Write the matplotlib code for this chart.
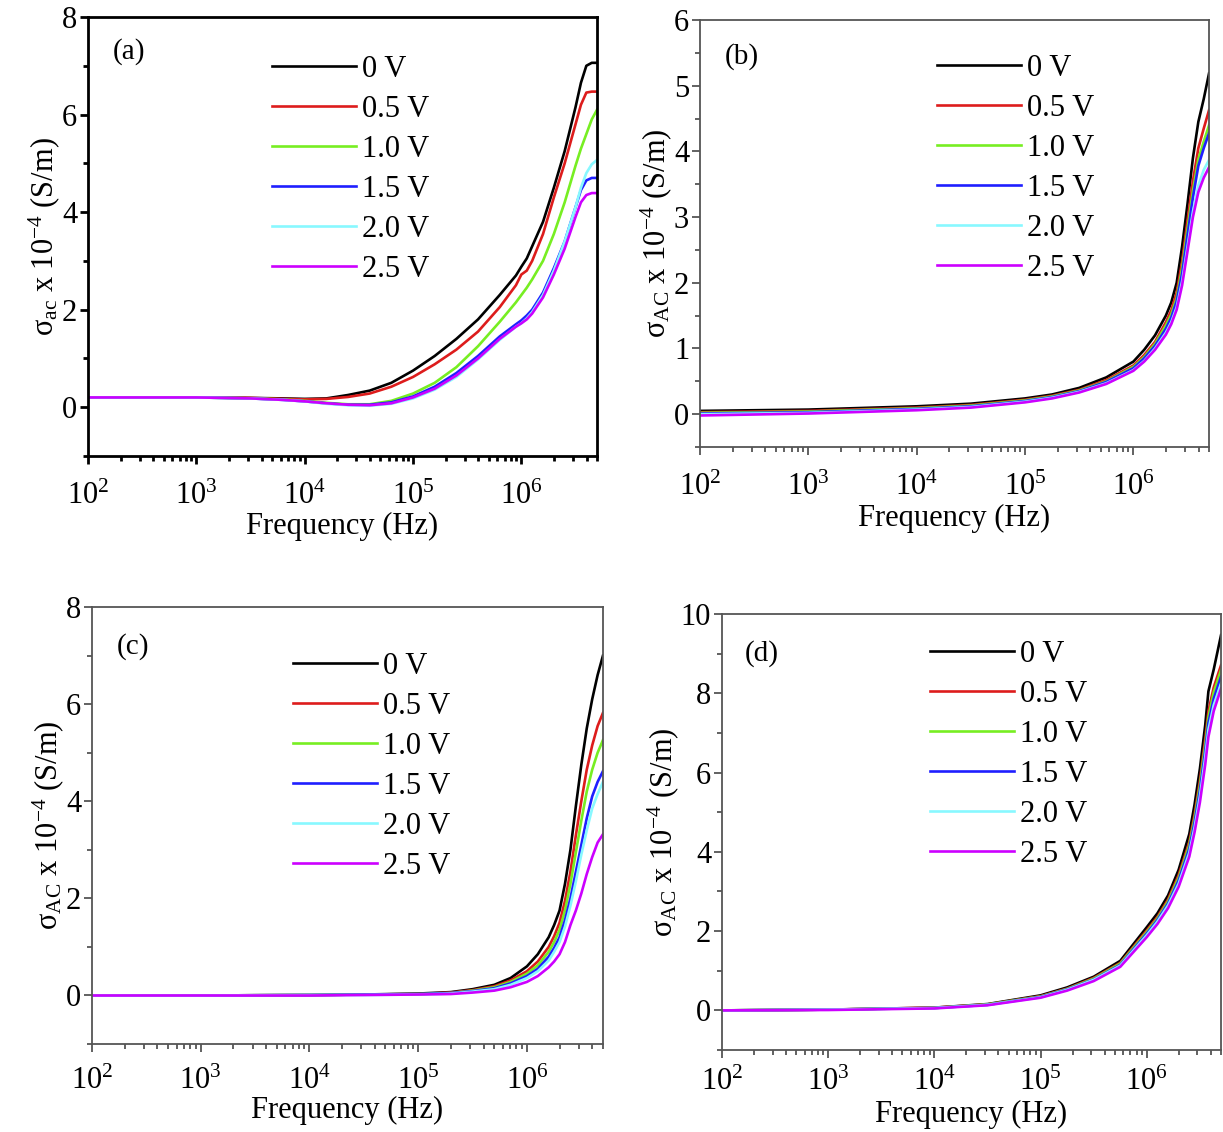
import matplotlib
matplotlib.use("Agg")
import matplotlib.pyplot as plt
from matplotlib.ticker import LogLocator, LogFormatterMathtext, MultipleLocator, NullFormatter

plt.rcParams['font.family'] = ['Liberation Serif', 'DejaVu Serif']
plt.rcParams['mathtext.fontset'] = 'custom'
plt.rcParams['mathtext.rm'] = 'Liberation Serif'
plt.rcParams['mathtext.it'] = 'Liberation Serif:italic'
plt.rcParams['mathtext.bf'] = 'Liberation Serif:bold'

labels = ['0 V', '0.5 V', '1.0 V', '1.5 V', '2.0 V', '2.5 V']
colors = ['#000000', '#dd1c1c', '#77ee22', '#1f1fff', '#88f8ff', '#cc00ff']

# ---- panel (a) ----
logf_a = [2.0, 2.5, 3.0, 3.5, 3.8, 4.0, 4.2, 4.4, 4.6, 4.8, 5.0, 5.2, 5.4, 5.6, 5.8,
          5.95, 6.0, 6.05, 6.1, 6.2, 6.3, 6.4, 6.5, 6.55, 6.6, 6.65, 6.699]
a_0v = [0.20, 0.20, 0.20, 0.19, 0.18, 0.17, 0.18, 0.25, 0.34, 0.50, 0.75, 1.05, 1.40, 1.80, 2.30,
        2.70, 2.88, 3.05, 3.30, 3.80, 4.50, 5.25, 6.15, 6.65, 7.00, 7.06, 7.06]
a_05v = [0.20, 0.20, 0.20, 0.19, 0.17, 0.16, 0.17, 0.21, 0.28, 0.42, 0.62, 0.88, 1.18, 1.55, 2.05,
         2.50, 2.72, 2.80, 3.00, 3.55, 4.30, 5.00, 5.80, 6.20, 6.45, 6.47, 6.47]
a_10v = [0.20, 0.20, 0.20, 0.18, 0.16, 0.13, 0.09, 0.06, 0.06, 0.13, 0.28, 0.50, 0.82, 1.25, 1.75,
         2.15, 2.30, 2.45, 2.62, 3.00, 3.55, 4.20, 4.95, 5.30, 5.60, 5.90, 6.10]
a_15v = [0.20, 0.20, 0.20, 0.18, 0.15, 0.12, 0.08, 0.05, 0.05, 0.10, 0.22, 0.42, 0.70, 1.05, 1.45,
         1.70, 1.78, 1.88, 2.00, 2.35, 2.85, 3.40, 4.10, 4.45, 4.65, 4.70, 4.70]
a_20v = [0.20, 0.20, 0.20, 0.18, 0.15, 0.12, 0.07, 0.04, 0.03, 0.07, 0.18, 0.36, 0.62, 0.98, 1.38,
         1.65, 1.72, 1.82, 1.95, 2.30, 2.80, 3.40, 4.10, 4.50, 4.80, 4.98, 5.07]
a_25v = [0.20, 0.20, 0.20, 0.18, 0.15, 0.12, 0.08, 0.05, 0.04, 0.08, 0.20, 0.38, 0.65, 1.00, 1.40,
         1.65, 1.72, 1.80, 1.92, 2.25, 2.72, 3.25, 3.90, 4.20, 4.35, 4.39, 4.39]

# ---- panel (b) ----
logf_b = [2.0, 3.0, 4.0, 4.5, 5.0, 5.25, 5.5, 5.75, 6.0, 6.1, 6.2, 6.3, 6.35, 6.4, 6.45,
          6.5, 6.55, 6.6, 6.65, 6.699]
b_0v = [0.05, 0.07, 0.12, 0.16, 0.24, 0.30, 0.40, 0.56, 0.80, 0.98, 1.20, 1.50, 1.70, 2.00, 2.55,
        3.20, 3.90, 4.45, 4.80, 5.19]
b_05v = [0.03, 0.05, 0.10, 0.14, 0.22, 0.28, 0.37, 0.52, 0.74, 0.90, 1.10, 1.40, 1.58, 1.85, 2.32,
         2.95, 3.55, 4.05, 4.35, 4.63]
b_10v = [0.02, 0.04, 0.09, 0.13, 0.21, 0.27, 0.36, 0.50, 0.72, 0.87, 1.07, 1.35, 1.52, 1.77, 2.22,
         2.82, 3.40, 3.88, 4.15, 4.40]
b_15v = [0.01, 0.03, 0.08, 0.12, 0.20, 0.26, 0.35, 0.49, 0.70, 0.85, 1.04, 1.30, 1.47, 1.72, 2.14,
         2.72, 3.30, 3.78, 4.05, 4.28]
b_20v = [0.00, 0.02, 0.07, 0.11, 0.19, 0.25, 0.34, 0.47, 0.67, 0.81, 1.00, 1.24, 1.40, 1.63, 2.02,
         2.55, 3.08, 3.48, 3.72, 3.87]
b_25v = [-0.02, 0.01, 0.06, 0.10, 0.18, 0.24, 0.33, 0.46, 0.66, 0.80, 0.98, 1.21, 1.37, 1.59, 1.96,
         2.48, 3.00, 3.38, 3.60, 3.76]

# ---- panel (c) ----
logf_c = [2.0, 3.0, 4.0, 4.5, 5.0, 5.3, 5.5, 5.7, 5.85, 6.0, 6.1, 6.2, 6.25, 6.3, 6.35,
          6.4, 6.45, 6.5, 6.55, 6.6, 6.65, 6.699]
c_0v = [0.0, 0.0, 0.01, 0.02, 0.04, 0.07, 0.13, 0.22, 0.36, 0.60, 0.85, 1.20, 1.45, 1.75, 2.30,
        3.00, 3.90, 4.75, 5.50, 6.10, 6.60, 7.00]
c_05v = [0.0, 0.0, 0.01, 0.02, 0.03, 0.06, 0.11, 0.19, 0.31, 0.50, 0.70, 1.00, 1.22, 1.50, 1.95,
         2.55, 3.30, 4.00, 4.65, 5.15, 5.55, 5.82]
c_10v = [0.0, 0.0, 0.01, 0.02, 0.03, 0.05, 0.10, 0.17, 0.28, 0.45, 0.62, 0.90, 1.10, 1.35, 1.75,
         2.30, 2.95, 3.60, 4.20, 4.65, 5.00, 5.26]
c_15v = [0.0, 0.0, 0.01, 0.02, 0.03, 0.05, 0.09, 0.15, 0.25, 0.40, 0.55, 0.80, 0.98, 1.20, 1.55,
         2.00, 2.55, 3.10, 3.65, 4.10, 4.40, 4.62]
c_20v = [0.0, 0.0, 0.01, 0.01, 0.02, 0.04, 0.08, 0.13, 0.22, 0.36, 0.50, 0.72, 0.90, 1.10, 1.42,
         1.85, 2.35, 2.90, 3.40, 3.85, 4.15, 4.40]
c_25v = [0.0, 0.0, 0.00, 0.01, 0.02, 0.03, 0.06, 0.10, 0.17, 0.28, 0.40, 0.58, 0.70, 0.85, 1.10,
         1.45, 1.75, 2.10, 2.50, 2.85, 3.15, 3.32]

# ---- panel (d) ----
logf_d = [2.0, 3.0, 4.0, 4.5, 5.0, 5.25, 5.5, 5.75, 6.0, 6.1, 6.2, 6.3, 6.4, 6.45, 6.5,
          6.55, 6.58, 6.63, 6.699]
d_0v = [0.0, 0.02, 0.07, 0.16, 0.38, 0.58, 0.85, 1.25, 2.10, 2.45, 2.90, 3.55, 4.45, 5.20, 6.10,
        7.20, 8.05, 8.60, 9.47]
d_05v = [0.0, 0.02, 0.07, 0.15, 0.36, 0.55, 0.82, 1.20, 2.02, 2.36, 2.80, 3.42, 4.25, 4.95, 5.80,
         6.85, 7.55, 8.15, 8.71]
d_10v = [0.0, 0.02, 0.06, 0.15, 0.35, 0.54, 0.80, 1.18, 1.98, 2.32, 2.75, 3.35, 4.17, 4.85, 5.68,
         6.70, 7.40, 8.02, 8.59]
d_15v = [0.0, 0.02, 0.06, 0.14, 0.34, 0.53, 0.78, 1.15, 1.94, 2.28, 2.70, 3.28, 4.08, 4.75, 5.55,
         6.55, 7.25, 7.86, 8.42]
d_20v = [0.0, 0.02, 0.06, 0.14, 0.33, 0.52, 0.77, 1.13, 1.90, 2.24, 2.65, 3.20, 3.98, 4.62, 5.40,
         6.38, 7.08, 7.70, 8.25]
d_25v = [0.0, 0.01, 0.05, 0.13, 0.32, 0.50, 0.74, 1.10, 1.85, 2.18, 2.58, 3.12, 3.88, 4.50, 5.25,
         6.20, 6.90, 7.55, 8.12]

panels = [
    dict(tag='(a)', logf=logf_a, series=[a_0v, a_05v, a_10v, a_15v, a_20v, a_25v],
         rect=[0.0720, 0.5972, 0.4162, 0.3878], ylim=(-1, 8), major=2, minor=1,
         ylabel='σ$_{\\mathrm{ac}}$ x 10$^{-4}$ (S/m)', frame='black', fw=2.0,
         leg=(0.361, 0.913), tagpos=(0.049, 0.921), xpad=12.5, xlpad=1.0),
    dict(tag='(b)', logf=logf_b, series=[b_0v, b_05v, b_10v, b_15v, b_20v, b_25v],
         rect=[0.5724, 0.6051, 0.4162, 0.3772], ylim=(-0.5, 6), major=1, minor=0.5,
         ylabel='σ$_{\\mathrm{AC}}$ x 10$^{-4}$ (S/m)', frame='#555555', fw=1.3,
         leg=(0.466, 0.921), tagpos=(0.049, 0.915), xpad=12.8, xlpad=1.5),
    dict(tag='(c)', logf=logf_c, series=[c_0v, c_05v, c_10v, c_15v, c_20v, c_25v],
         rect=[0.0752, 0.0777, 0.4178, 0.3860], ylim=(-1, 8), major=2, minor=1,
         ylabel='σ$_{\\mathrm{AC}}$ x 10$^{-4}$ (S/m)', frame='#555555', fw=1.3,
         leg=(0.393, 0.897), tagpos=(0.049, 0.910), xpad=10.7, xlpad=0.0),
    dict(tag='(d)', logf=logf_d, series=[d_0v, d_05v, d_10v, d_15v, d_20v, d_25v],
         rect=[0.5904, 0.0724, 0.4080, 0.3852], ylim=(-1, 10), major=2, minor=1,
         ylabel='σ$_{\\mathrm{AC}}$ x 10$^{-4}$ (S/m)', frame='#555555', fw=1.3,
         leg=(0.417, 0.940), tagpos=(0.046, 0.910), xpad=7.1, xlpad=2.0),
]

fig = plt.figure(figsize=(12.23, 11.32), dpi=100)
FS = 22

for p in panels:
    ax = fig.add_axes(p['rect'])
    freq = [10 ** v for v in p['logf']]
    for s, c, lab in zip(p['series'], colors, labels):
        ax.plot(freq, s, color=c, lw=1.9, label=lab)
    ax.set_xscale('log')
    ax.set_xlim(1e2, 5e6)
    ax.set_ylim(*p['ylim'])
    ax.xaxis.set_major_locator(LogLocator(base=10, numticks=20))
    ax.xaxis.set_major_formatter(LogFormatterMathtext())
    ax.xaxis.set_minor_locator(LogLocator(base=10, subs=range(2, 10), numticks=40))
    ax.xaxis.set_minor_formatter(NullFormatter())
    ax.yaxis.set_major_locator(MultipleLocator(p['major']))
    ax.yaxis.set_minor_locator(MultipleLocator(p['minor']))
    ax.tick_params(which='both', direction='out', top=False, right=False,
                   labelsize=FS, color=p['frame'], width=p['fw'])
    ax.tick_params(which='major', length=5.8)
    ax.tick_params(which='minor', length=3.6)
    ax.tick_params(axis='x', which='major', pad=p['xpad'])
    ax.tick_params(axis='y', which='major', pad=2)
    for sp in ax.spines.values():
        sp.set_color(p['frame'])
        sp.set_linewidth(p['fw'])
    ax.set_xlabel('Frequency (Hz)', fontsize=FS, labelpad=p['xlpad'])
    ax.set_ylabel(p['ylabel'], fontsize=FS, labelpad=0)
    ax.text(p['tagpos'][0], p['tagpos'][1], p['tag'], transform=ax.transAxes,
            fontsize=21, ha='left', va='center')
    ax.legend(loc='upper left', bbox_to_anchor=p['leg'], frameon=False, fontsize=FS,
              handlelength=2.75, handletextpad=0.2, labelspacing=0.36,
              borderpad=0, borderaxespad=0)

fig.savefig('out.png', dpi=100)
